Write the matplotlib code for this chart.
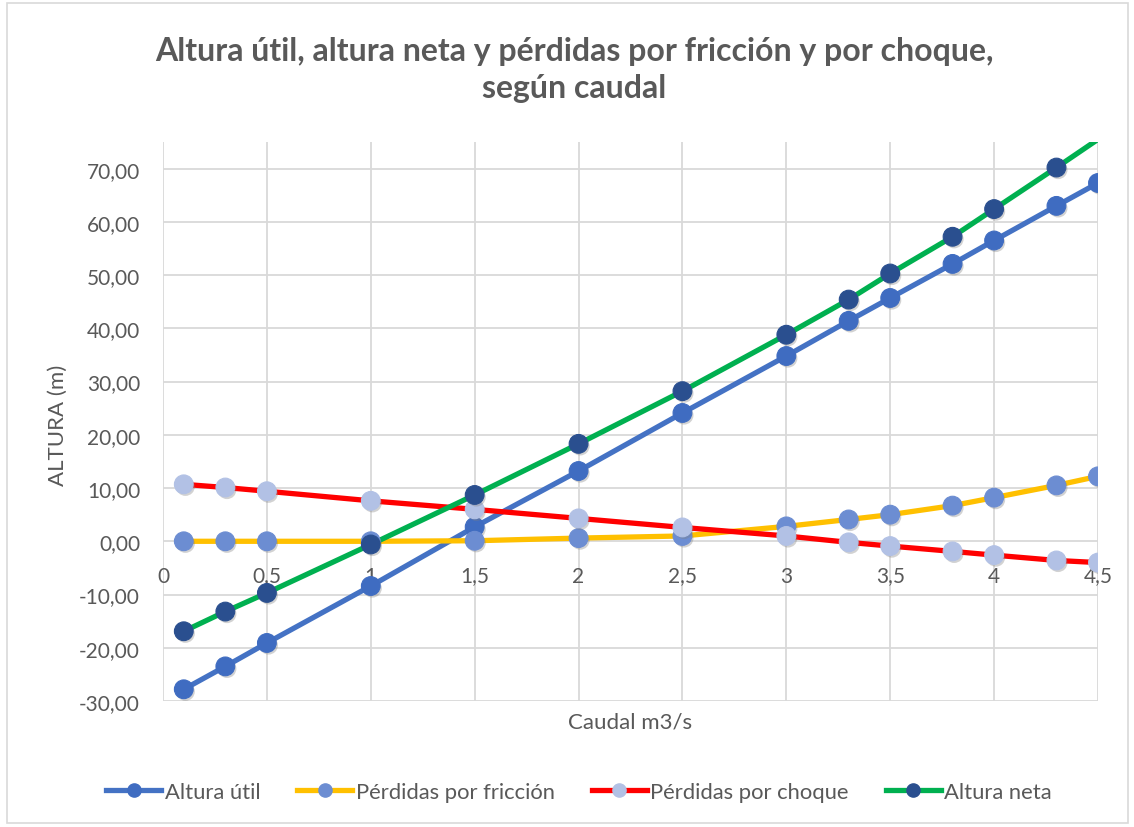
import matplotlib
matplotlib.use("Agg")
import matplotlib.pyplot as plt
import matplotlib.patheffects as pe
from matplotlib.lines import Line2D
from matplotlib.patches import Rectangle
from matplotlib.ticker import FuncFormatter, MultipleLocator

# Caudal (m3/s) and the four head curves (m)
caudal = [0.1, 0.3, 0.5, 1.0, 1.5, 2.0, 2.5, 3.0, 3.3, 3.5, 3.8, 4.0, 4.3, 4.5]
altura_util = [-27.8, -23.5, -19.1, -8.4, 2.7, 13.2, 24.1, 34.8, 41.4, 45.7, 52.1, 56.5, 63.0, 67.3]
perdidas_friccion = [0.0, 0.0, 0.0, 0.0, 0.1, 0.6, 1.0, 2.8, 4.1, 5.0, 6.7, 8.2, 10.5, 12.2]
perdidas_choque = [10.7, 10.1, 9.4, 7.6, 6.0, 4.3, 2.6, 1.0, -0.2, -0.9, -1.9, -2.6, -3.6, -4.0]
altura_neta = [-16.9, -13.2, -9.7, -0.6, 8.7, 18.3, 28.2, 38.8, 45.4, 50.3, 57.2, 62.4, 70.2, 75.5]

labels = ["Altura útil", "Pérdidas por fricción", "Pérdidas por choque", "Altura neta"]
line_colors = ["#4472C4", "#FFC000", "#FF0000", "#00B050"]
marker_colors = ["#3F6CC1", "#6C8DD2", "#B2C1E5", "#2A4F8F"]

Y_MIN, Y_MAX = -30, 75
TEXT = "#595959"
FONT = ["Lato", "DejaVu Sans"]
plt.rcParams["font.family"] = FONT

fig = plt.figure(figsize=(11.34, 8.28), dpi=100)
W, H = 1134, 828
ax = fig.add_axes([163 / W, 1 - 702 / H, (1098 - 163) / W, (702 - 143) / H])

series = [altura_util, perdidas_friccion, perdidas_choque, altura_neta]
shadow = [pe.SimplePatchShadow(offset=(1.2, -1.6), alpha=0.35, shadow_rgbFace="#7f7f7f"), pe.Normal()]
for vals, lc, mc, lab in zip(series, line_colors, marker_colors, labels):
    ax.plot(caudal, vals, color=lc, lw=3.8, solid_capstyle="butt", zorder=3)
    visible = [i for i, v in enumerate(vals) if Y_MIN <= v <= Y_MAX]
    ax.plot(caudal, vals, ls="none", marker="o", markersize=13.5,
            markerfacecolor=mc, markeredgecolor=mc, markeredgewidth=0.8,
            markevery=visible, zorder=4, path_effects=shadow)

ax.set_xlim(0, 4.5)
ax.set_ylim(Y_MIN, Y_MAX)
ax.xaxis.set_major_locator(MultipleLocator(0.5))
ax.yaxis.set_major_locator(MultipleLocator(10))


def fmt_x(v, _):
    s = f"{v:g}"
    return s.replace(".", ",")


def fmt_y(v, _):
    return f"{v:.2f}".replace(".", ",").replace("-0,00", "0,00")


ax.xaxis.set_major_formatter(FuncFormatter(fmt_x))
ax.yaxis.set_major_formatter(FuncFormatter(fmt_y))
ax.grid(True, color="#D9D9D9", lw=1.3, zorder=0)
ax.set_axisbelow(True)
for s in ax.spines.values():
    s.set_visible(False)
ax.spines["bottom"].set_position(("data", 0))
ax.tick_params(axis="both", length=0, labelsize=15, labelcolor=TEXT)
ax.tick_params(axis="x", pad=17.5)
ax.tick_params(axis="y", pad=16.5)

fig.text(574 / W, 1 - 70 / H,
         "Altura útil, altura neta y pérdidas por fricción y por choque,\nsegún caudal",
         ha="center", va="center", fontsize=23, fontweight="bold", color=TEXT,
         linespacing=1.35)
fig.text(58 / W, 1 - 425 / H, "ALTURA (m)", rotation=90, ha="center", va="center",
         fontsize=16, color=TEXT)
fig.text(630 / W, 1 - 723 / H, "Caudal m3/s", ha="center", va="center",
         fontsize=16, color=TEXT)

handles = [Line2D([], [], color=lc, lw=3.8, marker="o", markersize=9.5,
                  markerfacecolor=mc, markeredgecolor=mc)
           for lc, mc in zip(line_colors, marker_colors)]
leg = fig.legend(handles, labels, loc="center", bbox_to_anchor=(579 / W, 1 - 793 / H),
                 ncol=4, frameon=False, fontsize=15.8, handlelength=2.5,
                 handletextpad=0.15, columnspacing=1.7)
for t in leg.get_texts():
    t.set_color(TEXT)

fig.patches.append(Rectangle((7 / W, 4 / H), (1128 - 7) / W, (824 - 4) / H,
                             transform=fig.transFigure, fill=False,
                             edgecolor="#D9D9D9", lw=1.2))

fig.savefig("out.png", dpi=100, facecolor="white")
